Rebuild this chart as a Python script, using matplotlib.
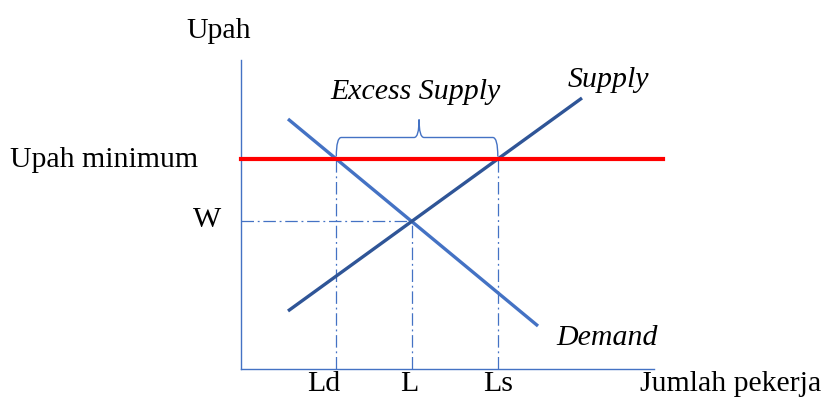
import numpy as np
import matplotlib
matplotlib.use('Agg')
import matplotlib.pyplot as plt
from matplotlib.path import Path
from matplotlib.patches import PathPatch

plt.rcParams['font.family'] = ['Liberation Serif', 'DejaVu Serif']

# ── data (diagram units, origin at the axis corner) ──
demand_x = [47, 297]
demand_y = [250, 43]
supply_x = [47, 341]
supply_y = [58, 271]
min_wage = 210
axis_x_end = 413
axis_y_end = 309
tick_labels = ['Ld', 'L', 'Ls']


def x_at(xs, ys, y):
    return xs[0] + (y - ys[0]) * (xs[1] - xs[0]) / (ys[1] - ys[0])


# intersections
sd = (demand_y[1] - demand_y[0]) / (demand_x[1] - demand_x[0])
ss = (supply_y[1] - supply_y[0]) / (supply_x[1] - supply_x[0])
L = (supply_y[0] - demand_y[0] + sd * demand_x[0] - ss * supply_x[0]) / (sd - ss)
W = demand_y[0] + sd * (L - demand_x[0])
Ld = x_at(demand_x, demand_y, min_wage)
Ls = x_at(supply_x, supply_y, min_wage)

fig = plt.figure(figsize=(8.22, 4.13), dpi=100)
ax = fig.add_axes([0, 0, 1, 1])
ax.set_xlim(-241, 581)
ax.set_ylim(-44, 369)
ax.axis('off')

blue = '#4472C4'
dark = '#2F5597'
dd = (0, (10, 3, 1.5, 3))

# axes
ax.plot([0, 0], [0, axis_y_end], color=blue, lw=1.0)
ax.plot([0, axis_x_end], [0, 0], color=blue, lw=1.0)

# guide lines
ax.plot([0, L], [W, W], color=blue, lw=0.9, linestyle=dd)
ax.plot([L, L], [0, W], color=blue, lw=0.9, linestyle=dd)
ax.plot([Ld, Ld], [0, min_wage], color=blue, lw=0.9, linestyle=dd)
ax.plot([Ls, Ls], [0, min_wage], color=blue, lw=0.9, linestyle=dd)

# curves
ax.plot(demand_x, demand_y, color=blue, lw=2.4, solid_capstyle='butt')
ax.plot(supply_x, supply_y, color=dark, lw=2.4, solid_capstyle='butt')
ax.plot([0, 422], [min_wage, min_wage], color='#FF0000', lw=3.0)

# brace over the excess supply
mid = (Ld + Ls) / 2 + 2
yb, yh, yt, r = 212.5, 231.5, 249.5, 5
verts = [(Ld, yb), (Ld, yh), (Ld + r, yh),
         (mid - r, yh), (mid, yh), (mid, yt),
         (mid, yh), (mid + r, yh),
         (Ls - r, yh), (Ls, yh), (Ls, yb)]
codes = [Path.MOVETO, Path.CURVE3, Path.CURVE3,
         Path.LINETO, Path.CURVE3, Path.CURVE3,
         Path.CURVE3, Path.CURVE3,
         Path.LINETO, Path.CURVE3, Path.CURVE3]
ax.add_patch(PathPatch(Path(verts, codes), fill=False, edgecolor=blue, lw=1.0))

fs = 21.5
ax.text(-22, 338, 'Upah', fontsize=fs, ha='center', va='center')
ax.text(-231, min_wage - 1, 'Upah minimum', fontsize=fs, ha='left', va='center')
ax.text(-34, 149, 'W', fontsize=fs, ha='center', va='center')
ax.text(174, 277, 'Excess Supply', fontsize=fs, style='italic', ha='center', va='center')
ax.text(367, 289, 'Supply', fontsize=fs, style='italic', ha='center', va='center')
ax.text(366, 31, 'Demand', fontsize=fs, style='italic', ha='center', va='center')
for lab, xp in zip(tick_labels, [Ld - 13, L - 2, Ls]):
    ax.text(xp, -15, lab, fontsize=fs, ha='center', va='center')
ax.text(490, -15, 'Jumlah pekerja', fontsize=fs, ha='center', va='center')

fig.savefig('out.png', dpi=100)
